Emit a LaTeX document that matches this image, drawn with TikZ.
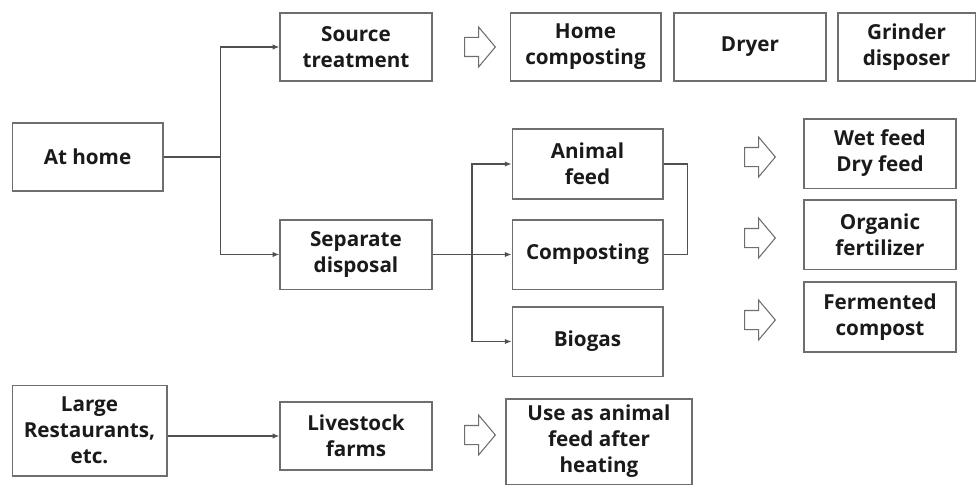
\documentclass[tikz,border=0pt]{standalone}
\usepackage{fontspec}
\setmainfont{Open Sans}
\usepackage{tikz}
\usetikzlibrary{shapes.arrows, arrows.meta, positioning, calc}
\definecolor{fwline}{HTML}{505050}
\definecolor{fwbox}{HTML}{6E6E6E}
\definecolor{fwtext}{HTML}{1A1A1A}

\begin{document}
\begin{tikzpicture}[x=0.75pt, y=-0.75pt,
        font=\fontsize{15.5}{19.5}\selectfont\bfseries,
        box/.style={draw=fwbox, line width=1pt, text=fwtext, align=center,
          minimum width=114pt, minimum height=51pt, inner sep=0pt},
        arr/.style={-{Latex[length=5pt,width=4pt]}, draw=fwline, line width=0.9pt},
        ln/.style={draw=fwline, line width=0.9pt},
        hollow/.style={single arrow, draw=fwbox, line width=0.8pt, fill=white,
          inner xsep=0pt, inner ysep=6.75pt, single arrow head extend=7.75pt,
          minimum height=23pt, single arrow tip angle=100}]
        \useasboundingbox (0,0) rectangle (978,485);
        \node[box, minimum width=113pt] (home) at (87.5,157) {At home};
        \node[box] (source) at (356,47) {Source\\treatment};
        \node[box, minimum height=52pt] (sep) at (356,254.5) {Separate\\disposal};
        \node[box, minimum width=113pt] (homecomp) at (585.5,47) {Home\\composting};
        \node[box] (dryer) at (750,47) {Dryer};
        \node[box, minimum width=103pt] (grinder) at (906.5,47) {Grinder\\disposer};
        \node[box, minimum width=113pt, minimum height=52.5pt] (feed) at (587.5,164) {Animal\\feed};
        \node[box, minimum width=113pt, minimum height=52pt] (comp) at (587.5,254.5) {Composting};
        \node[box, minimum width=113pt, minimum height=52pt] (biogas) at (587.5,341.5) {Biogas};
        \node[box, minimum height=52pt] (wetdry) at (880,153.5) {Wet feed\\Dry feed};
        \node[box, minimum height=52pt] (organic) at (880,234.5) {Organic\\fertilizer};
        \node[box, minimum height=52.5pt] (ferment) at (880,317) {Fermented\\compost};
        \node[box, minimum width=116pt, minimum height=68pt] (large) at (89.5,430.5) {Large\\Restaurants,\\etc.};
        \node[box] (livestock) at (356,436) {Livestock\\farms};
        \node[box, minimum width=139.5pt, minimum height=64pt] (useas) at (599,441.5) {Use as animal\\feed after\\heating};
        \node[hollow] (h1) at (476,47) {};
        \node[hollow] (h2) at (756,157) {};
        \node[hollow] (h3) at (756,238) {};
        \node[hollow] (h4) at (756,320) {};
        \node[hollow] (h5) at (476,435) {};
        \draw[ln] (home.east) -- ++(57,0) coordinate (split);
        \draw[arr] (split) |- (source.west);
        \draw[arr] (split) |- (sep.west);
        \draw[arr] (sep.east) -- (comp.west);
        \coordinate (fork) at ($(sep.east)!0.5!(comp.west)$);
        \draw[arr] (fork) |- (feed.west);
        \draw[arr] (fork) |- (biogas.west);
        \draw[ln] (feed.east) -- ++(24,0) |- (comp.east);
        \draw[arr] (large.east |- livestock.west) -- (livestock.west);
      \end{tikzpicture}
\end{document}
